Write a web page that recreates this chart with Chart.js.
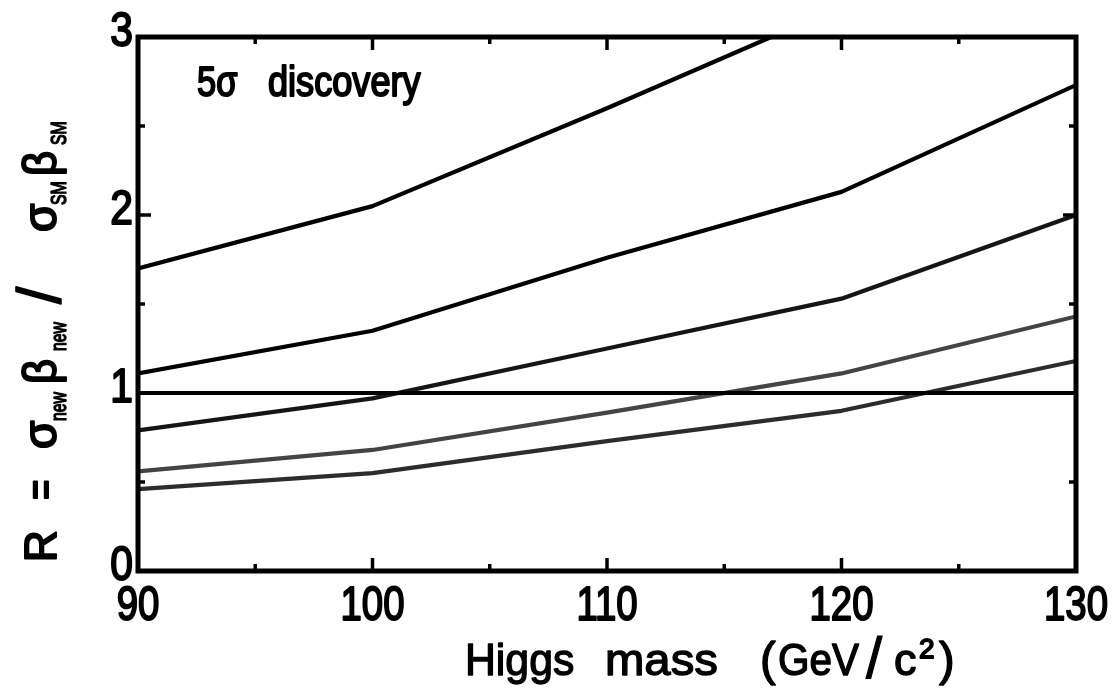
<!DOCTYPE html>
<html>
<head>
<meta charset="utf-8">
<title>5σ discovery reach vs Higgs mass</title>
<script src="https://cdn.jsdelivr.net/npm/chart.js@4.4.1/dist/chart.umd.min.js"></script>
<style>
  html, body { margin: 0; padding: 0; background: #ffffff; }
  #wrap { width: 1112px; height: 698px; position: relative; }
</style>
</head>
<body>
<div id="wrap"><canvas id="chart" width="1112" height="698"></canvas></div>
<script>
// Higgs masses (GeV/c^2) at which the curves are evaluated
const massGrid = [90, 100, 110, 120, 130];
// the steepest curve leaves the frame at R = 3 near 117 GeV
const massTop = [90, 100, 110, 117];

// R = sigma_new*beta_new / sigma_SM*beta_SM needed for a 5 sigma discovery
const rTop    = [1.70, 2.05, 2.60, 3.00];
const rSecond = [1.11, 1.35, 1.76, 2.13, 2.73];
const rUnity  = [1.00, 1.00, 1.00, 1.00, 1.00];
const rThird  = [0.79, 0.97, 1.25, 1.53, 2.00];
const rFourth = [0.56, 0.68, 0.89, 1.11, 1.43];
const rFifth  = [0.46, 0.55, 0.73, 0.90, 1.18];

// axis tick values
const xLabelTicks = [90, 100, 110, 120, 130];
const xMajorInner = [100, 110, 120];
const xMinorTicks = [95, 105, 115, 125];
const yLabelTicks = [0, 1, 2, 3];
const yMajorInner = [1, 2];
const yMinorTicks = [0.5, 1.5, 2.5];

const FONT = '"Liberation Sans", Arial, "DejaVu Sans", sans-serif';

function pairs(xs, ys) {
  return ys.map((y, i) => ({ x: xs[i], y: y }));
}

// filled text with a thin outline for a slightly heavier stroke
function text(ctx, str, x, y, size, sx, align, baseline, weight) {
  ctx.save();
  ctx.font = size + 'px ' + FONT;
  ctx.textAlign = align || 'left';
  ctx.textBaseline = baseline || 'alphabetic';
  ctx.translate(x, y);
  ctx.scale(sx, 1);
  ctx.fillText(str, 0, 0);
  ctx.lineWidth = weight === undefined ? 1.4 : weight;
  ctx.lineJoin = 'round';
  if (ctx.lineWidth > 0) ctx.strokeText(str, 0, 0);
  ctx.restore();
}

// frame, inward ticks and all lettering
const framePlugin = {
  id: 'frameAndLabels',
  afterDraw(chart) {
    const ctx = chart.ctx;
    const a = chart.chartArea;
    const xs = chart.scales.x, ys = chart.scales.y;
    ctx.save();
    ctx.strokeStyle = '#000';
    ctx.fillStyle = '#000';
    ctx.lineCap = 'butt';

    // inward ticks
    ctx.lineWidth = 3.5;
    const tick = (x1, y1, x2, y2) => { ctx.beginPath(); ctx.moveTo(x1, y1); ctx.lineTo(x2, y2); ctx.stroke(); };
    xMajorInner.forEach(v => { const px = xs.getPixelForValue(v); tick(px, a.bottom, px, a.bottom - 13); tick(px, a.top, px, a.top + 13); });
    xMinorTicks.forEach(v => { const px = xs.getPixelForValue(v); tick(px, a.bottom, px, a.bottom - 7); tick(px, a.top, px, a.top + 7); });
    yMajorInner.forEach(v => { const py = ys.getPixelForValue(v); tick(a.left, py, a.left + 13, py); tick(a.right, py, a.right - 13, py); });
    yMinorTicks.forEach(v => { const py = ys.getPixelForValue(v); tick(a.left, py, a.left + 7, py); tick(a.right, py, a.right - 7, py); });

    // frame
    ctx.lineWidth = 5;
    ctx.lineJoin = 'miter';
    ctx.strokeRect(a.left, a.top, a.right - a.left, a.bottom - a.top);

    // tick labels
    xLabelTicks.forEach(v => text(ctx, String(v), xs.getPixelForValue(v), 620, 48, 0.8, 'center', 'alphabetic', 2));
    yLabelTicks.forEach(v => text(ctx, String(v), 133, ys.getPixelForValue(v) - 4, 48, 0.85, 'right', 'middle', 2));

    // in-frame annotation
    text(ctx, '5σ', 197, 96, 42, 0.82, 'left', 'alphabetic', 2);
    text(ctx, 'discovery', 268, 96, 42, 0.86, 'left', 'alphabetic', 2);

    // x-axis title
    text(ctx, 'Higgs', 465, 675, 45, 0.95, 'left');
    text(ctx, 'mass', 605, 675, 45, 1.05, 'left');
    text(ctx, '(', 760, 675, 47, 1.0, 'left');
    text(ctx, 'GeV', 778, 675, 45, 0.9, 'left');
    text(ctx, '/', 866, 678, 58, 1.0, 'left', 'alphabetic', 1.2);
    text(ctx, 'c', 894, 675, 45, 1.0, 'left');
    text(ctx, '2', 919, 658, 28, 1.0, 'left', 'alphabetic', 1.8);
    text(ctx, ')', 939, 675, 47, 1.0, 'left');

    // y-axis title, rotated: R = σ_new β_new / σ_SM β_SM
    ctx.save();
    ctx.translate(56, 562);
    ctx.rotate(-Math.PI / 2);
    const seg = (str, x, y, size, sx, w) => text(ctx, str, x, y, size, sx, 'left', 'alphabetic', w === undefined ? 2 : w);
    seg('R', 0, 0, 44, 1.0);
    seg('=', 62, 0, 44, 0.8);
    seg('σ', 113, 0, 46, 1.0);
    seg('new', 141, 10, 22, 0.72, 1.4);
    seg('β', 178, 0, 46, 0.95);
    seg('new', 211, 10, 22, 0.72, 1.4);
    seg('/', 258, 4, 62, 1.0, 1.6);
    seg('σ', 330, 0, 46, 1.0);
    seg('SM', 357, 10, 22, 0.72, 1.4);
    seg('β', 386, 0, 46, 0.95);
    seg('SM', 417, 10, 22, 0.72, 1.4);
    ctx.restore();

    ctx.restore();
  }
};

const lineStyle = (color) => ({
  borderColor: color,
  backgroundColor: color,
  borderWidth: 4.2,
  pointRadius: 0,
  tension: 0,
  fill: false,
  borderJoinStyle: 'round',
  borderCapStyle: 'round'
});

new Chart(document.getElementById('chart'), {
  type: 'line',
  data: {
    datasets: [
      Object.assign({ label: 'curve 1', data: pairs(massTop, rTop) }, lineStyle('#000000')),
      Object.assign({ label: 'curve 2', data: pairs(massGrid, rSecond) }, lineStyle('#000000')),
      Object.assign({ label: 'R = 1', data: pairs(massGrid, rUnity) }, lineStyle('#000000')),
      Object.assign({ label: 'curve 3', data: pairs(massGrid, rThird) }, lineStyle('#151515')),
      Object.assign({ label: 'curve 4', data: pairs(massGrid, rFourth) }, lineStyle('#444444')),
      Object.assign({ label: 'curve 5', data: pairs(massGrid, rFifth) }, lineStyle('#2c2c2c'))
    ]
  },
  options: {
    responsive: false,
    animation: false,
    events: [],
    layout: { padding: { top: 37, right: 36, left: 0, bottom: 0 } },
    plugins: { legend: { display: false }, tooltip: { enabled: false }, title: { display: false } },
    scales: {
      x: {
        type: 'linear', min: 90, max: 130,
        grid: { display: false }, border: { display: false },
        ticks: { display: false },
        afterFit(scale) { scale.height = 127; }
      },
      y: {
        type: 'linear', min: 0, max: 3,
        grid: { display: false }, border: { display: false },
        ticks: { display: false },
        afterFit(scale) { scale.width = 138; }
      }
    }
  },
  plugins: [framePlugin]
});
</script>
</body>
</html>
